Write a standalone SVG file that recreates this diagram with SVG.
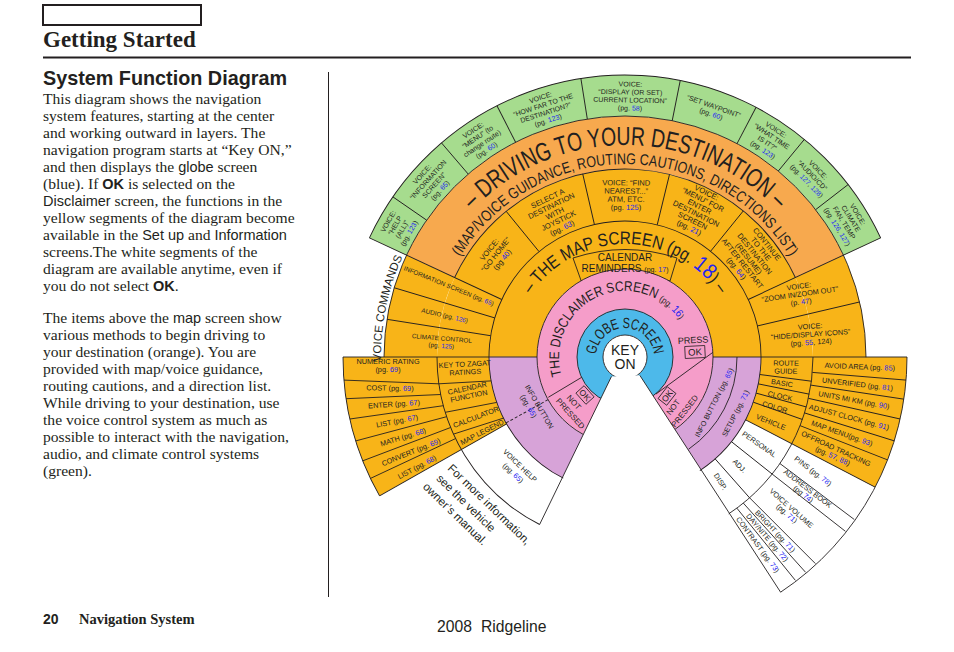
<svg xmlns="http://www.w3.org/2000/svg" width="954" height="652" viewBox="0 0 954 652">
<defs>
<style>
.t{font-family:"Liberation Sans",Arial,Helvetica,sans-serif;fill:#231f20;text-anchor:middle}
.st{text-anchor:start}
.s6{font-size:6.4px}
.s7{font-size:7px}
.s73{font-size:7.3px}
.s76{font-size:7.6px}
.b{fill:#2424f2}
.ol{fill:none;stroke:#231f20;stroke-width:0.9}
.ln{stroke:#231f20;stroke-width:0.9;fill:none}
.f{fill:none}
.O{stroke:#f8b418}
.LO{stroke:#f7a94e}
.G{stroke:#a6dc8e}
.P{stroke:#f59dc9}
.B{stroke:#4db9ea}
.U{stroke:#d7a3d8}
.body{font-family:"Liberation Serif","Times New Roman",serif;font-size:15.6px;fill:#231f20}
.ss{font-family:"Liberation Sans",Arial,sans-serif;font-size:14.5px}
.sb{font-family:"Liberation Sans",Arial,sans-serif;font-size:14.5px;font-weight:bold}
</style>
<path id="pDrive" d="M-183.6,-106 A212,212 0 0 1 183.6,-106"/>
<path id="pGuid" d="M-167.1,-96.5 A193,193 0 0 1 167.1,-96.5"/>
<path id="pMap" d="M-106.2,-38.6 A113,113 0 0 1 106.2,-38.6"/>
<path id="pDisc" d="M-62,22.6 A66,66 0 1 1 62,22.6"/>
<path id="pGlobe" d="M-29,0 A29,29 0 0 1 29,0"/>
<path id="pVC" d="M-243.9,6.4 A244,244 0 0 1 -219.3,-107"/>
</defs>
<rect width="954" height="652" fill="#fff"/>

<g id="page">
<rect x="43" y="5" width="158" height="20" fill="#fff" stroke="#231f20" stroke-width="2"/>
<text x="43" y="47" font-family="'Liberation Serif','Times New Roman',serif" font-weight="bold" font-size="23" fill="#231f20">Getting Started</text>
<line x1="43" y1="57.5" x2="911" y2="57.5" stroke="#231f20" stroke-width="2"/>
<line x1="328.5" y1="72" x2="328.5" y2="597" stroke="#231f20" stroke-width="1"/>
<text x="43" y="85" font-family="'Liberation Sans',Arial,sans-serif" font-weight="bold" font-size="19.8" fill="#231f20">System Function Diagram</text>
<text class="body" x="43" y="104">This diagram shows the navigation</text>
<text class="body" x="43" y="121">system features, starting at the center</text>
<text class="body" x="43" y="138">and working outward in layers. The</text>
<text class="body" x="43" y="155">navigation program starts at “Key ON,”</text>
<text class="body" x="43" y="172">and then displays the <tspan class="ss">globe</tspan> screen</text>
<text class="body" x="43" y="189">(blue). If <tspan class="sb">OK</tspan> is selected on the</text>
<text class="body" x="43" y="206"><tspan class="ss">Disclaimer</tspan> screen, the functions in the</text>
<text class="body" x="43" y="223">yellow segments of the diagram become</text>
<text class="body" x="43" y="240">available in the <tspan class="ss">Set up</tspan> and <tspan class="ss">Information</tspan></text>
<text class="body" x="43" y="257">screens.The white segments of the</text>
<text class="body" x="43" y="274">diagram are available anytime, even if</text>
<text class="body" x="43" y="291">you do not select <tspan class="sb">OK</tspan>.</text>
<text class="body" x="43" y="323">The items above the <tspan class="ss">map</tspan> screen show</text>
<text class="body" x="43" y="340">various methods to begin driving to</text>
<text class="body" x="43" y="357">your destination (orange). You are</text>
<text class="body" x="43" y="374">provided with map/voice guidance,</text>
<text class="body" x="43" y="391">routing cautions, and a direction list.</text>
<text class="body" x="43" y="408">While driving to your destination, use</text>
<text class="body" x="43" y="425">the voice control system as much as</text>
<text class="body" x="43" y="442">possible to interact with the navigation,</text>
<text class="body" x="43" y="459">audio, and climate control systems</text>
<text class="body" x="43" y="476">(green).</text>
<text x="43" y="624" font-family="'Liberation Sans',Arial,sans-serif" font-weight="bold" font-size="14" fill="#231f20">20</text>
<text x="79" y="624" font-family="'Liberation Serif','Times New Roman',serif" font-weight="bold" font-size="14.5" fill="#231f20">Navigation System</text>
<text y="632" font-family="'Liberation Sans',Arial,sans-serif" font-size="15.7" fill="#231f20"><tspan x="437">2008</tspan><tspan x="481">Ridgeline</tspan></text>
</g>

<g id="fan" transform="translate(625 357)">
<g id="fills">
<circle class="f O" r="138" stroke-width="100" stroke-dasharray="433.5 3000" transform="rotate(180)"/>
<circle class="f O" r="214.5" stroke-width="53" stroke-dasharray="93.6 3000" transform="rotate(180)"/>
<circle class="f O" r="214.5" stroke-width="53" stroke-dasharray="93.6 3000" transform="rotate(335)"/>
<circle class="f LO" r="214.5" stroke-width="53" stroke-dasharray="486.7 3000" transform="rotate(205)"/>
<circle class="f G" r="261.5" stroke-width="41" stroke-dasharray="593.3 3000" transform="rotate(205)"/>
<circle class="f O" r="209" stroke-width="146" stroke-dasharray="107.6 3000" transform="rotate(150.5)"/>
<circle class="f O" r="209" stroke-width="146" stroke-dasharray="100.3 3000"/>
<circle class="f U" r="112" stroke-width="48" stroke-dasharray="140.7 3000" transform="rotate(108)"/>
<circle class="f U" r="112" stroke-width="48" stroke-dasharray="129 3000"/>
</g>
<g id="calendar-box">
<path d="M-52,-99 Q0,-116 52,-99 L45,-76 Q0,-90 -42,-71 Z" fill="#f8b418" stroke="#231f20" stroke-width="0.9"/>
</g>
<g id="disclaimer-ring">
<circle class="f P" r="68" stroke-width="40"/>
<circle class="ol" r="88"/>
</g>
<g id="globe-ring">
<circle class="f B" r="35" stroke-width="26"/>
<circle class="ol" r="48"/>
</g>
<g id="key-on">
<circle r="22" fill="#fff" stroke="#231f20" stroke-width="0.9"/>
<polygon fill="#fff" points="-13.5,19.4 14.8,18.3 155.6,235.2 -85.4,167.5"/>
<text class="t" font-size="14" y="-2">KEY</text>
<text class="t" font-size="14" y="11.5">ON</text>
</g>

<g id="connectors">
<line class="ln" x1="-13.5" y1="19.4" x2="-85.4" y2="167.5"/>
<line class="ln" x1="14.8" y1="18.3" x2="155.6" y2="235.2"/>
<circle class="ol" r="136" stroke-dasharray="710.9 3000" transform="rotate(117)"/>
<circle class="ol" r="112" stroke-dasharray="108.1 3000"/>
<circle class="ol" r="188" stroke-dasharray="426.6 3000" transform="rotate(205)"/>
<circle class="ol" r="188" stroke-dasharray="206.7 3000" transform="rotate(117)"/>
<circle class="ol" r="188" stroke-dasharray="185.4 3000"/>
<circle class="ol" r="241" stroke-dasharray="757.1 3000" transform="rotate(180)"/>
<circle class="ol" r="282" stroke-dasharray="639.8 3000" transform="rotate(205)"/>
<circle class="ol" r="282" stroke-dasharray="145.2 3000" transform="rotate(150.5)"/>
<circle class="ol" r="282" stroke-dasharray="278.1 3000"/>
<g class="ln">
<line x1="88" x2="282" transform="rotate(180)"/>
<line x1="88" x2="282"/>
<line x1="136" x2="282" transform="rotate(205)"/>
<line x1="136" x2="282" transform="rotate(335)"/>
<line x1="241" x2="282" transform="rotate(214.6)"/>
<line x1="241" x2="282" transform="rotate(229.4)"/>
<line x1="241" x2="282" transform="rotate(243)"/>
<line x1="241" x2="282" transform="rotate(261)"/>
<line x1="241" x2="282" transform="rotate(281.3)"/>
<line x1="241" x2="282" transform="rotate(297.7)"/>
<line x1="241" x2="282" transform="rotate(309.5)"/>
<line x1="241" x2="282" transform="rotate(322.3)"/>
<line x1="136" x2="188" transform="rotate(230.8)"/>
<line x1="136" x2="188" transform="rotate(257)"/>
<line x1="136" x2="188" transform="rotate(283.7)"/>
<line x1="136" x2="188" transform="rotate(309)"/>
<line x1="136" x2="241" transform="rotate(196.7)"/>
<line x1="136" x2="241" transform="rotate(189)"/>
<line x1="136" x2="241" transform="rotate(346.8)"/>
<line x1="136" x2="282" transform="rotate(27.5)"/>
<line x1="136" x2="188" transform="rotate(7.4)"/>
<line x1="136" x2="188" transform="rotate(11.4)"/>
<line x1="136" x2="188" transform="rotate(15.4)"/>
<line x1="136" x2="188" transform="rotate(19.4)"/>
<line x1="188" x2="282" transform="rotate(4.7)"/>
<line x1="188" x2="282" transform="rotate(8.6)"/>
<line x1="188" x2="282" transform="rotate(12.7)"/>
<line x1="188" x2="282" transform="rotate(17.3)"/>
<line x1="188" x2="282" transform="rotate(21.4)"/>
<line x1="136" x2="188" transform="rotate(38.5)"/>
<line x1="136" x2="188" transform="rotate(48.5)"/>
<line x1="136" x2="282" transform="rotate(150.5)"/>
<line x1="88" x2="136" transform="rotate(151)" stroke-dasharray="3 2"/>
<line x1="-281.1" y1="23.1" x2="-186.2" y2="26.8"/>
<line x1="-278.9" y1="41.7" x2="-184.3" y2="37.5"/>
<line x1="-275.1" y1="62" x2="-181.7" y2="48.7"/>
<line x1="-269.2" y1="83.9" x2="-178.4" y2="59.7"/>
<line x1="-262.2" y1="103.8" x2="-174.4" y2="70.5"/>
<line x1="-254.5" y1="121.4" x2="-169.5" y2="81.6"/>
<line x1="-186.2" y1="26.8" x2="-133.9" y2="23.9"/>
<line x1="-179.7" y1="55.3" x2="-128.2" y2="45.4"/>
<line x1="-171.5" y1="77.1" x2="-121.5" y2="61.1"/>
<line x1="154.9" y1="106.5" x2="229.3" y2="162.5"/>
<line x1="147.1" y1="117" x2="220.4" y2="174.3"/>
<line x1="124.6" y1="140.8" x2="190.4" y2="206.6"/>
<line x1="118.3" y1="146.1" x2="180.6" y2="215.3"/>
<line x1="111.8" y1="151.1" x2="170.4" y2="223.4"/>
<line x1="-76.7" y1="40.3" x2="-43.3" y2="20.3"/>
<line x1="31" y1="37" x2="87.8" y2="-4.6"/>
</g>
</g>

<g id="ring-titles">
<text class="t" font-size="26"><textPath href="#pDrive" startOffset="50%" textLength="340" lengthAdjust="spacingAndGlyphs">– DRIVING TO YOUR DESTINATION –</textPath></text>
<text class="t" font-size="15.5"><textPath href="#pGuid" startOffset="50%" textLength="395" lengthAdjust="spacingAndGlyphs">(MAP/VOICE GUIDANCE, ROUTING CAUTIONS, DIRECTIONS LIST)</textPath></text>
<text class="t" font-size="18"><textPath href="#pMap" startOffset="50%" textLength="222" lengthAdjust="spacingAndGlyphs">– THE MAP SCREEN (pg. <tspan class="b" font-size="22">18</tspan>) –</textPath></text>
<text class="t st" font-size="14"><textPath href="#pDisc" startOffset="4.6" textLength="186" lengthAdjust="spacingAndGlyphs">THE DISCLAIMER SCREEN <tspan font-size="9">(pg. <tspan class="b" font-size="11">16</tspan>)</tspan></textPath></text>
<text class="t" font-size="15"><textPath href="#pGlobe" startOffset="50%" textLength="86" lengthAdjust="spacingAndGlyphs">GLOBE SCREEN</textPath></text>
<text class="t st" font-size="11.5"><textPath href="#pVC" startOffset="2">VOICE COMMANDS</textPath></text>
</g>

<g id="calendar-text">
<text class="t" font-size="10" y="-96">CALENDAR</text>
<text class="t" font-size="10" y="-85">REMINDERS <tspan font-size="7">(pg. <tspan class="b">17</tspan>)</tspan></text>
</g>

<g id="green-voice">
<text class="t s7" transform="rotate(-150.2) translate(261 0) rotate(90)"><tspan x="0" y="-9.5">VOICE:</tspan><tspan x="0" dy="8">“HELP</tspan><tspan x="0" dy="8">(ALL)”</tspan><tspan x="0" dy="8">(pg. <tspan class="b">123</tspan>)</tspan></text>
<text class="t s7" transform="rotate(-138) translate(261 0) rotate(90)"><tspan x="0" y="-9.5">VOICE:</tspan><tspan x="0" dy="8">“INFORMATION</tspan><tspan x="0" dy="8">SCREEN”</tspan><tspan x="0" dy="8">(pg. <tspan class="b">65</tspan>)</tspan></text>
<text class="t s7" transform="rotate(-123.8) translate(261 0) rotate(90)"><tspan x="0" y="-9.5">VOICE:</tspan><tspan x="0" dy="8">“MENU” (to</tspan><tspan x="0" dy="8">change route)</tspan><tspan x="0" dy="8">(pg. <tspan class="b">60</tspan>)</tspan></text>
<text class="t s7" transform="rotate(-108) translate(261 0) rotate(90)"><tspan x="0" y="-9.5">VOICE:</tspan><tspan x="0" dy="8">“HOW FAR TO THE</tspan><tspan x="0" dy="8">DESTINATION?”</tspan><tspan x="0" dy="8">(pg. <tspan class="b">123</tspan>)</tspan></text>
<text class="t s7" transform="rotate(-88.85) translate(261 0) rotate(90)"><tspan x="0" y="-9.5">VOICE:</tspan><tspan x="0" dy="8">“DISPLAY (OR SET)</tspan><tspan x="0" dy="8">CURRENT LOCATION”</tspan><tspan x="0" dy="8">(pg. <tspan class="b">58</tspan>)</tspan></text>
<text class="t s7" transform="rotate(-70.5) translate(262 0) rotate(90)"><tspan x="0" y="-1.5">“SET WAYPOINT”</tspan><tspan x="0" dy="8">(pg. <tspan class="b">60</tspan>)</tspan></text>
<text class="t s7" transform="rotate(-56.4) translate(261 0) rotate(90)"><tspan x="0" y="-9.5">VOICE:</tspan><tspan x="0" dy="8">“WHAT TIME</tspan><tspan x="0" dy="8">IS IT?”</tspan><tspan x="0" dy="8">(pg. <tspan class="b">123</tspan>)</tspan></text>
<text class="t s7" transform="rotate(-44.1) translate(261 0) rotate(90)"><tspan x="0" y="-5.5">VOICE:</tspan><tspan x="0" dy="8">“AUDIO/CD”</tspan><tspan x="0" dy="8">(pg. <tspan class="b">127</tspan>, <tspan class="b">128</tspan>)</tspan></text>
<text class="t s7" transform="rotate(-31.5) translate(261 0) rotate(90)"><tspan x="0" y="-9.5">VOICE:</tspan><tspan x="0" dy="8">CLIMATE</tspan><tspan x="0" dy="8">FAN, TEMP</tspan><tspan x="0" dy="8">(pg. <tspan class="b">126</tspan>, <tspan class="b">127</tspan>)</tspan></text>
</g>

<g id="orange-methods">
<text class="t s76" transform="rotate(-141.6) translate(165 0) rotate(90)"><tspan x="0" y="-5.5">VOICE:</tspan><tspan x="0" dy="8.2">“GO HOME”</tspan><tspan x="0" dy="8.2">(pg <tspan class="b">40</tspan>)</tspan></text>
<text class="t s76" transform="rotate(-116) translate(160 0) rotate(90)"><tspan x="0" y="-13.7">SELECT A</tspan><tspan x="0" dy="8.2">DESTINATION</tspan><tspan x="0" dy="8.2">WITH</tspan><tspan x="0" dy="8.2">JOYSTICK</tspan><tspan x="0" dy="8.2">(pg. <tspan class="b">63</tspan>)</tspan></text>
<text class="t s76" transform="rotate(-89.6) translate(162 0) rotate(90)"><tspan x="0" y="-9.6">VOICE: “FIND</tspan><tspan x="0" dy="8.2">NEAREST...”</tspan><tspan x="0" dy="8.2">ATM, ETC.</tspan><tspan x="0" dy="8.2">(pg. <tspan class="b">125</tspan>)</tspan></text>
<text class="t s76" transform="rotate(-63.6) translate(164 0) rotate(90)"><tspan x="0" y="-16.8">VOICE:</tspan><tspan x="0" dy="7.8">“MENU” FOR</tspan><tspan x="0" dy="7.8">ENTER</tspan><tspan x="0" dy="7.8">DESTINATION</tspan><tspan x="0" dy="7.8">SCREEN</tspan><tspan x="0" dy="7.8">(pg. <tspan class="b">21</tspan>)</tspan></text>
<text class="t s76" transform="rotate(-38.5) translate(162 0) rotate(90)"><tspan x="0" y="-16.8">CONTINUE</tspan><tspan x="0" dy="7.8">TO THE</tspan><tspan x="0" dy="7.8">DESTINATION</tspan><tspan x="0" dy="7.8">(RESUME)</tspan><tspan x="0" dy="7.8">AFTER RESTART</tspan><tspan x="0" dy="7.8">(pg. <tspan class="b">64</tspan>)</tspan></text>
</g>

<g id="voice-commands">
<text class="t s6" transform="rotate(202) translate(190 0) rotate(-180)" y="2.3">INFORMATION SCREEN (pg. <tspan class="b">65</tspan>)</text>
<text class="t s6" transform="rotate(193) translate(185 0) rotate(-180)" y="2.3">AUDIO (pg. <tspan class="b">126</tspan>)</text>
<text class="t s6" transform="rotate(184.7) translate(184 0) rotate(-180)"><tspan x="0" y="-1.4">CLIMATE CONTROL</tspan><tspan x="0" dy="7.4">(pg. <tspan class="b">125</tspan>)</tspan></text>
</g>

<g id="map-voice">
<text class="t s73" transform="rotate(-19.8) translate(186 0) rotate(11.8)"><tspan x="0" y="-5.4">VOICE:</tspan><tspan x="0" dy="8">“ZOOM IN/ZOOM OUT”</tspan><tspan x="0" dy="8">(p. <tspan class="b">47</tspan>)</tspan></text>
<text class="t s73" transform="rotate(-7) translate(187 0) rotate(3)"><tspan x="0" y="-5.4">VOICE:</tspan><tspan x="0" dy="8">“HIDE/DISPLAY ICONS”</tspan><tspan x="0" dy="8">(pg. <tspan class="b">55</tspan>, 124)</tspan></text>
</g>

<g id="setup-items">
<text class="t s73" transform="translate(161 10) rotate(1)"><tspan x="0" y="-1.4">ROUTE</tspan><tspan x="0" dy="8">GUIDE</tspan></text>
<text class="t s73" transform="translate(157 26) rotate(9)" y="2.6">BASIC</text>
<text class="t s73" transform="translate(155 39) rotate(13)" y="2.6">CLOCK</text>
<text class="t s73" transform="translate(150 50) rotate(17)" y="2.6">COLOR</text>
<text class="t s73" transform="translate(146 65) rotate(22)" y="2.6">VEHICLE</text>
<text class="t s73" transform="rotate(2.35) translate(235 0)" y="2.6">AVOID AREA (pg. <tspan class="b">85</tspan>)</text>
<text class="t s73" transform="rotate(6.65) translate(234 0)" y="2.6">UNVERIFIED (pg. <tspan class="b">81</tspan>)</text>
<text class="t s73" transform="rotate(10.65) translate(233 0)" y="2.6">UNITS MI KM (pg. <tspan class="b">90</tspan>)</text>
<text class="t s73" transform="rotate(15) translate(232 0)" y="2.6">ADJUST CLOCK (pg. <tspan class="b">91</tspan>)</text>
<text class="t s73" transform="rotate(19.35) translate(230 0)" y="2.6">MAP MENU(pg. <tspan class="b">93</tspan>)</text>
<text class="t s73" transform="rotate(24.45) translate(230 0)"><tspan x="0" y="-1.4">OFFROAD TRACKING</tspan><tspan x="0" dy="8">(pg. <tspan class="b">57</tspan>, <tspan class="b">88</tspan>)</tspan></text>
<text class="t s73" transform="rotate(33) translate(160 0) rotate(2)" y="2.6">PERSONAL</text>
<text class="t s73" transform="rotate(43.5) translate(158 0) rotate(1.5)" y="2.6">ADJ.</text>
<text class="t s73" transform="rotate(52.5) translate(157 0) rotate(5.5)" y="2.6">DISP.</text>
<text class="t s73" transform="translate(188.1 114) rotate(37)" y="2.6">PINS (pg. <tspan class="b">78</tspan>)</text>
<text class="t s73" transform="translate(180.5 134.3) rotate(37.5)"><tspan x="0" y="-1">ADDRESS BOOK</tspan><tspan x="0" dy="7">(pg <tspan class="b">74</tspan>)</tspan></text>
<text class="t s73" transform="translate(164.1 153.9) rotate(41.5)"><tspan x="0" y="-1">VOICE VOLUME</tspan><tspan x="0" dy="7">(pg. <tspan class="b">71</tspan>)</tspan></text>
<text class="t s73" transform="translate(150.3 174.1) rotate(46.5)" y="2.6">BRIGHT (pg. <tspan class="b">71</tspan>)</text>
<text class="t s73" transform="translate(142.4 180.6) rotate(49.5)" y="2.6">DAY/NITE (pg. <tspan class="b">72</tspan>)</text>
<text class="t s73" transform="translate(132.9 187.7) rotate(53.5)" y="2.6">CONTRAST (pg. <tspan class="b">73</tspan>)</text>
</g>

<g id="info-items">
<text class="t s73" transform="translate(-237 8)"><tspan x="0" y="-1.4">NUMERIC RATING</tspan><tspan x="0" dy="8">(pg. <tspan class="b">69</tspan>)</tspan></text>
<text class="t s73" transform="translate(-235 31) rotate(1)" y="2.6">COST (pg. <tspan class="b">69</tspan>)</text>
<text class="t s73" transform="translate(-231 47) rotate(-4)" y="2.6">ENTER (pg. <tspan class="b">67</tspan>)</text>
<text class="t s73" transform="translate(-228 64) rotate(-11)" y="2.6">LIST (pg. <tspan class="b">67</tspan>)</text>
<text class="t s73" transform="translate(-222 80) rotate(-17)" y="2.6">MATH (pg. <tspan class="b">68</tspan>)</text>
<text class="t s73" transform="translate(-214 95) rotate(-22)" y="2.6">CONVERT (pg. <tspan class="b">69</tspan>)</text>
<text class="t s73" transform="translate(-208 110) rotate(-28)" y="2.6">LIST (pg. <tspan class="b">68</tspan>)</text>
<text class="t s73" transform="translate(-160 11) rotate(-3)"><tspan x="0" y="-1.4">KEY TO ZAGAT</tspan><tspan x="0" dy="8">RATINGS</tspan></text>
<text class="t s73" transform="translate(-157 35) rotate(-12)"><tspan x="0" y="-1.4">CALENDAR</tspan><tspan x="0" dy="8">FUNCTION</tspan></text>
<text class="t s73" transform="translate(-149 60) rotate(-21)" y="2.6">CALCULATOR</text>
<text class="t s73" transform="translate(-143 75) rotate(-27)" y="2.6">MAP LEGEND</text>
<text class="t s73" transform="rotate(134) translate(151 0) rotate(-90)"><tspan x="0" y="2.6">VOICE HELP</tspan><tspan x="0" dy="10">(pg. <tspan class="b">65</tspan>)</tspan></text>
</g>

<g id="info-button">
<text class="t s73" transform="rotate(149.8) translate(103 0) rotate(-90)"><tspan x="0" y="-1.4">INFO BUTTON</tspan><tspan x="-6" dy="9">(pg. <tspan class="b">65</tspan>)</tspan></text>
<text class="t s73" transform="rotate(27) translate(100 0) rotate(-90)" y="2.6">INFO BUTTON (pg. <tspan class="b">65</tspan>)</text>
<text class="t s73" transform="rotate(27) translate(124 0) rotate(-90)" y="2.6">SETUP (pg. <tspan class="b">71</tspan>)</text>
</g>

<g id="ok-press">
<text class="t" font-size="9" transform="translate(68 -17) rotate(-3)" y="3.2">PRESS</text>
<g transform="translate(70 -5) rotate(-3)"><rect x="-10" y="-6" width="20" height="12" fill="none" stroke="#231f20" stroke-width="0.8"/><text class="t" font-size="9.5" y="3.4">OK</text></g>
<g transform="translate(-40 38) rotate(48)"><rect x="-7.5" y="-5.5" width="15" height="11" fill="none" stroke="#231f20" stroke-width="0.8"/><text class="t" font-size="8.5" y="3.1">OK</text><text class="t" font-size="8" x="-2" y="16">NOT</text><text class="t" font-size="8" x="4" y="26">PRESSED</text></g>
<g transform="translate(42 39) rotate(-52)"><rect x="-7.5" y="-5.5" width="15" height="11" fill="none" stroke="#231f20" stroke-width="0.8"/><text class="t" font-size="8.5" y="3.1">OK</text><text class="t" font-size="8" x="-5" y="14.5">NOT</text><text class="t" font-size="8" x="-1" y="26">PRESSED</text></g>
</g>
</g>

<g id="note">
<text font-family="'Liberation Sans',Arial,sans-serif" font-size="11.5" fill="#231f20" transform="translate(447 469) rotate(44)"><tspan x="0" y="0">For more information,</tspan><tspan x="-1" dy="15.3">see the vehicle</tspan><tspan x="-5" dy="15.3">owner’s manual.</tspan></text>
</g>
</svg>
